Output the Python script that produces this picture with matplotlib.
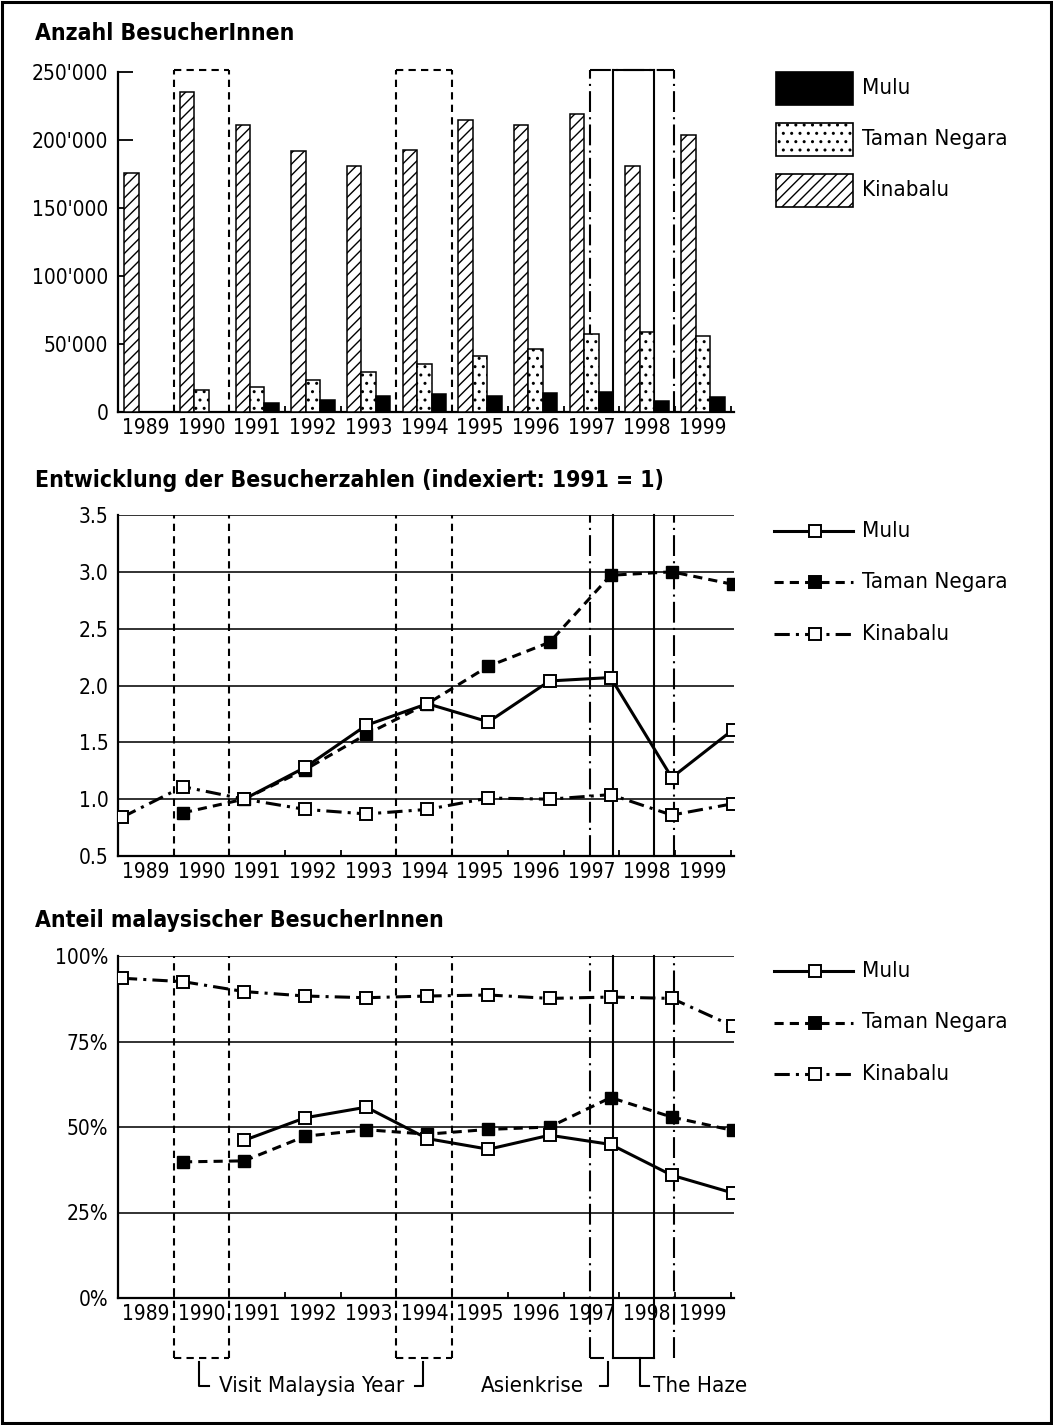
import numpy as np
import matplotlib
matplotlib.use("Agg")
import matplotlib.pyplot as plt
from matplotlib.patches import Rectangle
from matplotlib.lines import Line2D

plt.rcParams['font.family'] = ['DejaVu Sans']
plt.rcParams['font.stretch'] = 'condensed'
plt.rcParams['hatch.linewidth'] = 1.0

# Data
years = [1989, 1990, 1991, 1992, 1993, 1994, 1995, 1996, 1997, 1998, 1999]
parks = ["Mulu", "Taman Negara", "Kinabalu"]

kinabalu_n = [176000, 235000, 211000, 192000, 181000, 192500, 214500, 211000, 219000, 181000, 203500]
taman_n = [0, 16000, 18500, 23500, 29500, 35500, 41500, 46000, 57500, 58500, 56000]
mulu_n = [0, 0, 6800, 8800, 11800, 13000, 11800, 14200, 14900, 8300, 11300]

nan = np.nan
mulu_idx = [nan, nan, 1.0, 1.28, 1.65, 1.84, 1.68, 2.04, 2.07, 1.19, 1.61]
taman_idx = [nan, 0.88, 1.0, 1.26, 1.57, 1.84, 2.17, 2.38, 2.97, 3.0, 2.89]
kina_idx = [0.84, 1.11, 1.0, 0.91, 0.87, 0.91, 1.01, 1.0, 1.04, 0.86, 0.96]

mulu_pct = [nan, nan, 46.1, 52.7, 55.8, 46.6, 43.5, 47.6, 44.9, 35.9, 30.7]
taman_pct = [nan, 39.8, 40.1, 47.3, 49.2, 47.9, 49.3, 50.0, 58.6, 52.9, 49.0]
kina_pct = [93.5, 92.5, 89.6, 88.3, 87.8, 88.3, 88.6, 87.6, 88.0, 87.6, 79.5]

# events (Visit Malaysia Year boxes by year, crisis / haze spans in slot units)
vmy_years = [1990, 1994]
asien_span = (8.48, 9.99)
haze_span = (8.89, 9.63)

W, H = 1053, 1425
fig = plt.figure(figsize=(W / 100, H / 100), dpi=100)
FS = 15      # tick labels
FL = 16      # legend / notes
FT = 16.5    # titles


def box(left, top, right, bottom):
    return [left / W, 1 - bottom / H, (right - left) / W, (bottom - top) / H]


slot = np.arange(len(years))
pts = 0.07 + slot * 1.097

ax1 = fig.add_axes(box(118, 72, 734, 412))
ax2 = fig.add_axes(box(118, 515, 734, 856))
ax3 = fig.add_axes(box(118, 956, 734, 1298))


def style_axis(ax):
    ax.spines[['top', 'right']].set_visible(False)
    ax.spines[['left', 'bottom']].set_linewidth(1.6)
    ax.set_xlim(0, 11.06)
    ax.set_xticks(np.arange(1, 12))
    ax.set_xticklabels([])
    ax.set_xticks(slot + 0.5, minor=True)
    ax.set_xticklabels(years, minor=True)
    ax.tick_params(axis='x', which='major', direction='in', length=4, width=1.3)
    ax.tick_params(axis='x', which='minor', length=0, pad=4, labelsize=FS)
    ax.tick_params(axis='y', labelsize=FS, pad=7)


def draw_events(ax, bottom=0.0, top=1.0):
    tr = ax.get_xaxis_transform()
    kw = dict(transform=tr, clip_on=False, color='black', lw=1.5)
    dash = (0, (3.5, 2.5))
    dashdot = (0, (10, 2.5, 1, 2.5))
    for y in vmy_years:
        x0 = years.index(y)
        ax.plot([x0, x0], [bottom, top], ls=dash, **kw)
        ax.plot([x0 + 1, x0 + 1], [bottom, top], ls=dash, **kw)
    for x in asien_span:
        ax.plot([x, x], [bottom, top], ls=dashdot, **kw)
    for x in haze_span:
        ax.plot([x, x], [bottom, top], ls='-', **kw)
    return tr, kw, dash, dashdot


# ---- top: visitor numbers
style_axis(ax1)
ax1.set_ylim(0, 250000)
ax1.set_yticks(np.arange(0, 250001, 50000))
ax1.set_yticklabels([f"{v:,}".replace(',', "'") for v in range(0, 250001, 50000)])
ax1.tick_params(axis='y', direction='in', length=11, width=1.3)
bw = 0.26
ax1.bar(slot + 0.24, kinabalu_n, bw, facecolor='white', edgecolor='black', hatch='///', lw=1.1, zorder=3)
ax1.bar(slot + 0.50, taman_n, bw, facecolor='white', edgecolor='black', hatch='..', lw=1.1, zorder=3)
ax1.bar(slot + 0.76, mulu_n, bw, facecolor='black', edgecolor='black', lw=1.1, zorder=3)
tr, kw, dash, dashdot = draw_events(ax1, 0, 1.006)
for y in vmy_years:
    x0 = years.index(y)
    ax1.plot([x0, x0 + 1], [1.006, 1.006], ls=dash, **kw)
ax1.plot(list(asien_span), [1.006, 1.006], ls=dashdot, **kw)
ax1.plot(list(haze_span), [1.006, 1.006], ls='-', **kw)

# ---- line charts
def line_chart(ax, mulu, taman, kina):
    ax.plot(pts, kina, color='black', lw=2.2, ls=(0, (5, 2, 1, 2)), marker='s', ms=9,
            mfc='white', mec='black', mew=1.4, zorder=4)
    ax.plot(pts, taman, color='black', lw=2.2, ls=(0, (3, 2)), marker='s', ms=8,
            mfc='black', mec='black', zorder=5)
    ax.plot(pts, mulu, color='black', lw=2.2, ls='-', marker='s', ms=9,
            mfc='white', mec='black', mew=1.4, zorder=6)


style_axis(ax2)
ax2.set_ylim(0.5, 3.5)
ax2.set_yticks(np.arange(0.5, 3.51, 0.5))
ax2.set_yticklabels([f"{v:.1f}" for v in np.arange(0.5, 3.51, 0.5)])
ax2.tick_params(axis='y', length=0)
ax2.grid(axis='y', color='#222222', lw=1.3)
ax2.set_axisbelow(True)
draw_events(ax2)
line_chart(ax2, mulu_idx, taman_idx, kina_idx)

style_axis(ax3)
ax3.set_ylim(0, 100)
ax3.set_yticks([0, 25, 50, 75, 100])
ax3.set_yticklabels(["0%", "25%", "50%", "75%", "100%"])
ax3.tick_params(axis='y', length=0)
ax3.grid(axis='y', color='#222222', lw=1.3)
ax3.set_axisbelow(True)
yb = -0.175
tr, kw, dash, dashdot = draw_events(ax3, yb, 1.0)
line_chart(ax3, mulu_pct, taman_pct, kina_pct)

# bottom annotations
for y in vmy_years:
    x0 = years.index(y)
    ax3.plot([x0, x0 + 1], [yb, yb], ls=dash, **kw)
ax3.plot([asien_span[0], 8.72], [yb, yb], ls=dashdot, **kw)
ax3.plot(list(haze_span), [yb, yb], ls='-', **kw)
yt, yl = -0.186, -0.258
skw = dict(transform=tr, clip_on=False, color='black', lw=1.5)
ax3.plot([1.46, 1.46, 1.64], [yt, yl, yl], **skw)
ax3.plot([5.33, 5.48, 5.48], [yl, yl, yt], **skw)
ax3.plot([8.66, 8.80, 8.80], [yl, yl, yt], **skw)
ax3.plot([9.37, 9.37, 9.54], [yb, yl, yl], **skw)
ax3.text(1.82, yl, "Visit Malaysia Year", transform=tr, fontsize=FL, va='center', ha='left')
ax3.text(8.36, yl, "Asienkrise", transform=tr, fontsize=FL, va='center', ha='right')
ax3.text(9.61, yl, "The Haze", transform=tr, fontsize=FL, va='center', ha='left')

# titles
titles = ["Anzahl BesucherInnen",
          "Entwicklung der Besucherzahlen (indexiert: 1991 = 1)",
          "Anteil malaysischer BesucherInnen"]
for t, ty in zip(titles, [33, 481, 920]):
    fig.text(35 / W, 1 - ty / H, t, fontsize=FT, fontweight='bold', va='center', ha='left')

# legends
bar_styles = [dict(facecolor='black'), dict(facecolor='white', hatch='..'), dict(facecolor='white', hatch='///')]
for i, (name, st) in enumerate(zip(parks, bar_styles)):
    top = 72 + i * 51
    fig.add_artist(Rectangle((776 / W, 1 - (top + 33) / H), 77 / W, 33 / H, transform=fig.transFigure,
                             edgecolor='black', lw=1.2, **st))
    fig.text(862 / W, 1 - (top + 16) / H, name, fontsize=FL, va='center', ha='left')

line_styles = [dict(ls='-', mfc='white'), dict(ls=(0, (3, 2)), mfc='black'), dict(ls=(0, (5, 2, 1, 2)), mfc='white')]
for base in [531, 971]:
    for i, (name, st) in enumerate(zip(parks, line_styles)):
        y = 1 - (base + i * 51.5) / H
        fig.add_artist(Line2D([774 / W, 853 / W], [y, y], transform=fig.transFigure, color='black', lw=2.2, ls=st['ls']))
        fig.add_artist(Line2D([815 / W], [y], transform=fig.transFigure, marker='s', ms=8, mfc=st['mfc'],
                              mec='black', mew=1.4, ls='none'))
        fig.text(862 / W, y, name, fontsize=FL, va='center', ha='left')

# frame round the figure
fig.add_artist(Rectangle((2 / W, 2 / H), 1 - 4 / W, 1 - 4 / H, transform=fig.transFigure,
                         fill=False, edgecolor='black', lw=2.2))

fig.savefig("out.png", dpi=100)
